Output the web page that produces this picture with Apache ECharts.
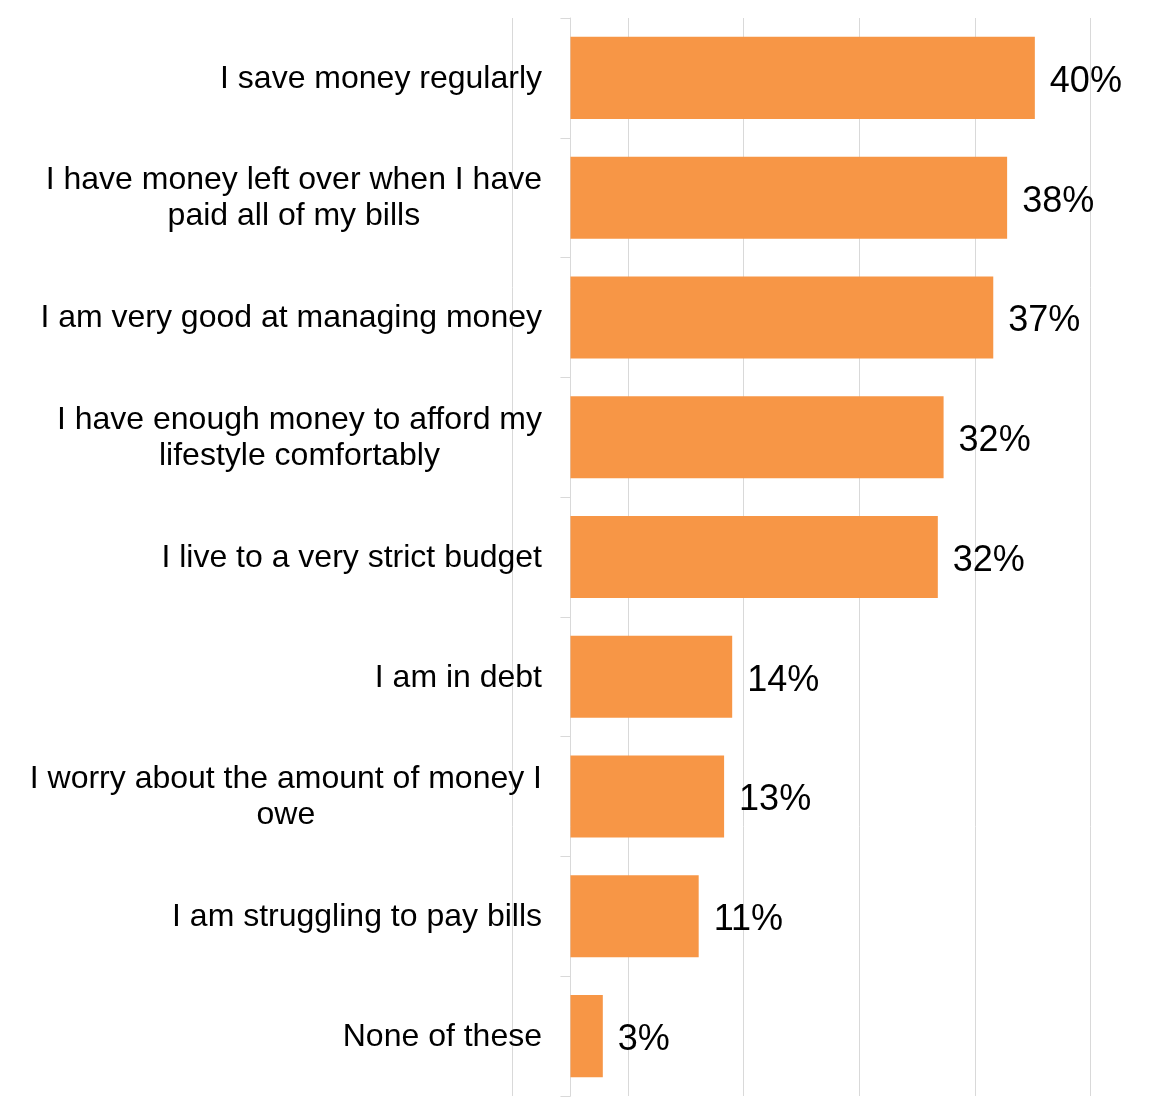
<!DOCTYPE html>
<html>
<head>
<meta charset="utf-8">
<title>Money statements</title>
<script src="https://cdn.jsdelivr.net/npm/echarts@6/dist/echarts.min.js"></script>
<style>
  html, body { margin: 0; padding: 0; background: #ffffff; }
  #chart { width: 1158px; height: 1097px; }
</style>
</head>
<body>
<div id="chart"></div>
<script>
// Statements, top to bottom
const categories = [
  'I save money regularly',
  'I have money left over when I have\npaid all of my bills',
  'I am very good at managing money',
  'I have enough money to afford my\nlifestyle comfortably',
  'I live to a very strict budget',
  'I am in debt',
  'I worry about the amount of money I\nowe',
  'I am struggling to pay bills',
  'None of these'
];

// Share of respondents agreeing (%)
const shares = [40.2, 37.8, 36.6, 32.3, 31.8, 14.0, 13.3, 11.1, 2.8];

// Value axis range and gridline spacing
const axisMin = -5;
const axisMax = 45;
const axisStep = 10;

const FONT = '"Liberation Sans", Arial, Helvetica, sans-serif';
const BAR_COLOR = '#F79646';
const GRID_COLOR = '#d9d9d9';

const chart = echarts.init(document.getElementById('chart'), null, { renderer: 'canvas' });

chart.setOption({
  animation: false,
  backgroundColor: '#ffffff',
  grid: {
    left: 512.7, right: 67.7, top: 18, bottom: 1,
    containLabel: false,
    outerBoundsMode: 'none'
  },
  xAxis: {
    type: 'value',
    min: axisMin,
    max: axisMax,
    interval: axisStep,
    axisLabel: { show: false },
    axisLine: { show: false },
    axisTick: { show: false },
    splitLine: { show: true, lineStyle: { color: GRID_COLOR, width: 1 } }
  },
  yAxis: {
    type: 'category',
    inverse: true,
    data: categories,
    axisLine: { show: true, onZero: true, lineStyle: { color: GRID_COLOR, width: 1 } },
    axisTick: { show: true, length: 10, lineStyle: { color: GRID_COLOR, width: 1 } },
    splitLine: { show: false },
    axisLabel: {
      // labels sit just left of the zero line, inside the plot's left margin band
      margin: -29.3,
      align: 'right',
      color: '#000000',
      fontFamily: FONT,
      fontSize: 32,
      lineHeight: 36,
      padding: [2, 0, 0, 0],
      // every line centred within the right-aligned label block
      formatter: function (value) {
        return value.split('\n').map(function (line) { return '{c|' + line + '}'; }).join('\n');
      },
      rich: {
        c: { align: 'center', color: '#000000', fontFamily: FONT, fontSize: 32, lineHeight: 36 }
      }
    }
  },
  series: [{
    type: 'bar',
    data: shares,
    barWidth: '68.5%',
    itemStyle: { color: BAR_COLOR },
    label: {
      show: true,
      position: 'right',
      distance: 15,
      offset: [0, 4],
      color: '#000000',
      fontFamily: FONT,
      fontSize: 36,
      formatter: function (p) { return Math.round(p.value) + '%'; }
    }
  }]
});
</script>
</body>
</html>
